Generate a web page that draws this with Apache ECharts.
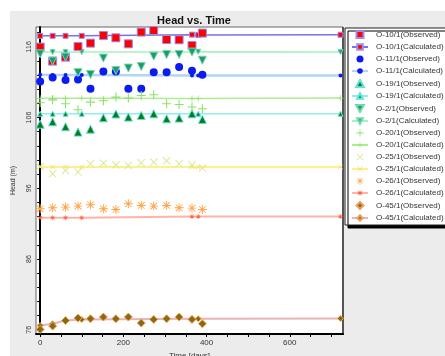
<!DOCTYPE html>
<html>
<head>
<meta charset="utf-8">
<script src="https://cdn.jsdelivr.net/npm/echarts@6/dist/echarts.min.js"></script>
<style>
  html, body { margin: 0; padding: 0; background: #fff; }
  #chart { width: 445px; height: 356px; }
</style>
</head>
<body>
<div id="chart"></div>
<script>
// Observation dates (days) and dates where calculated heads are reported
const obsDays  = [0, 30, 61, 91, 121, 152, 182, 212, 243, 273, 304, 334, 365, 390];
const calcDays = [0, 30, 61, 100, 365, 380, 722];

// Observed heads (m)
const o10Obs = [115.96, 113.98, 114.54, 116.04, 116.52, 117.6, 117.27, 116.42, 118.08, 118.3, 117.03, 116.99, 116.18, 117.94];
const o11Obs = [111.1, 111.66, 111.3, 111.38, 110.06, 112.51, 112.51, 110.06, 110.06, 112.42, 112.42, 113.13, 112.6, 112.04];
const o19Obs = [105.05, 105.4, 104.7, 103.94, 104.35, 105.96, 106.5, 106.06, 106.29, 106.53, 105.82, 105.92, 106.53, 105.73];
const o2Obs  = [115.01, 113.98, 114.54, 112.35, 112.08, 114.4, 112.65, 112.99, 113.2, 114.68, 114.91, 114.91, 115.25, 114.1];
const o20Obs = [108.08, 108.5, 107.94, 107.1, 108.18, 108.37, 108.89, 108.75, 109.12, 109.22, 107.94, 107.85, 107.48, 107.24];
const o25Obs = [99.08, 98.05, 98.52, 98.29, 99.46, 99.55, 99.32, 99.22, 99.6, 99.7, 99.89, 99.46, 99.32, 98.85];
const o26Obs = [93.1, 93.24, 93.34, 93.48, 93.67, 93.1, 93.0, 93.81, 93.57, 93.48, 93.57, 93.24, 93.2, 93.0];
const o45Obs = [76.05, 76.52, 77.3, 77.65, 77.55, 77.8, 77.55, 77.8, 76.95, 77.46, 77.55, 77.8, 77.46, 76.85];

// Calculated heads (m)
const o10Calc = [117.55, 117.55, 117.55, 117.55, 117.72, 117.68, 117.7];
const o11Calc = [112.05, 112.0, 112.0, 112.0, 111.95, 111.95, 111.95];
const o19Calc = [106.53, 106.53, 106.53, 106.53, 106.53, 106.53, 106.53];
const o2Calc  = [115.25, 115.25, 115.25, 115.25, 115.28, 115.3, 115.25];
const o20Calc = [108.72, 108.72, 108.72, 108.72, 108.7, 108.7, 108.75];
const o25Calc = [99.0, 99.0, 99.0, 99.02, 99.02, 99.02, 99.02];
const o26Calc = [91.83, 91.83, 91.83, 91.85, 92.02, 92.02, 92.02];
const o45Calc = [76.6, 76.85, 77.3, 77.45, 77.55, 77.55, 77.6];

// Axis ticks
const yTicks  = [76, 78, 80, 82, 84, 86, 88, 90, 92, 94, 96, 98, 100, 102, 104, 106, 108, 110, 112, 114, 116, 118];
const yLabels = [76, 86, 96, 106, 116];
const xTicks  = [0, 50, 100, 150, 200, 250, 300, 350, 400, 450, 500, 550, 600, 650, 700];
const xLabels = [0, 200, 400, 600];

// Marker shapes as paths so legend icons keep their aspect ratio
const SQUARE = 'path://M0,0H10V10H0Z';
const CIRCLE = 'path://M5,0A5,5,0,1,1,5,10A5,5,0,1,1,5,0Z';
const TRI_UP = 'path://M5,0L10,9H0Z';
const TRI_DN = 'path://M0,0H10L5,9Z';
const DIAMOND = 'path://M5,0L10,5L5,10L0,5Z';
const PLUS = 'path://M0,4.4H10V5.6H0Z M4.4,0H5.6V10H4.4Z';
const CROSS = 'path://M0,0.8L0.8,0L10,9.2L9.2,10Z M9.2,0L10,0.8L0.8,10L0,9.2Z';
const STAR = 'path://M0,4.5H10V5.5H0Z M4.5,0H5.5V10H4.5Z M1,1.7L1.7,1L9,8.3L8.3,9Z M8.3,1L9,1.7L1.7,9L1,8.3Z';

const pair = (xs, ys) => xs.map((x, i) => [x, ys[i]]);

function obs(name, ys, symbol, size, color, border) {
  return {
    name, type: 'scatter', data: pair(obsDays, ys), symbol, symbolSize: size, z: 5,
    itemStyle: { color, borderColor: border || color, borderWidth: border ? 1 : 0, opacity: 1 }
  };
}
function calc(name, ys, symbol, size, color, border, line, lw) {
  return {
    name, type: 'line', data: pair(calcDays, ys), symbol, symbolSize: size,
    showAllSymbol: true, z: 3,
    lineStyle: { color: line, width: lw },
    itemStyle: { color, borderColor: border || color, borderWidth: border ? 1 : 0 },
    emphasis: { disabled: true }
  };
}

const series = [
  obs('O-10/1(Observed)', o10Obs, SQUARE, 8, '#ff0000', '#9a8cf0'),
  calc('O-10/1(Calculated)', o10Calc, SQUARE, 5, '#ff0000', '#9a8cf0', '#7a72e6', 1.5),
  obs('O-11/1(Observed)', o11Obs, CIRCLE, 8, '#0a1cf0'),
  calc('O-11/1(Calculated)', o11Calc, CIRCLE, 4, '#0a1cf0', null, '#b2d4f6', 2.5),
  obs('O-19/1(Observed)', o19Obs, TRI_UP, 8, '#0a7a1a', '#5fe0d8'),
  calc('O-19/1(Calculated)', o19Calc, TRI_UP, 5, '#0a7a1a', '#5fe0d8', '#90eeee', 1.5),
  obs('O-2/1(Observed)', o2Obs, TRI_DN, 8, '#1e9a70', '#70d8b0'),
  calc('O-2/1(Calculated)', o2Calc, TRI_DN, 5, '#1e9a70', '#70d8b0', '#a4f2bc', 1.5),
  obs('O-20/1(Observed)', o20Obs, PLUS, 9, '#8ee070'),
  calc('O-20/1(Calculated)', o20Calc, PLUS, 6, '#8ee070', null, '#aaf08c', 1.5),
  obs('O-25/1(Observed)', o25Obs, CROSS, 8, '#d6ea8a'),
  calc('O-25/1(Calculated)', o25Calc, CROSS, 5, '#f0dc60', null, '#fff08e', 2),
  obs('O-26/1(Observed)', o26Obs, STAR, 9, '#ffa448'),
  calc('O-26/1(Calculated)', o26Calc, STAR, 5, '#ff5a3a', null, '#ffb4a6', 2),
  obs('O-45/1(Observed)', o45Obs, DIAMOND, 8, '#8a6a0c', '#f0a060'),
  calc('O-45/1(Calculated)', o45Calc, DIAMOND, 6, '#8a6a0c', '#f0a060', '#e8b4b4', 2)
];

const chart = echarts.init(document.getElementById('chart'), null, { renderer: 'canvas' });
chart.setOption({
  animation: false,
  backgroundColor: '#ececec',
  textStyle: { fontFamily: 'Liberation Sans, Arial, sans-serif' },
  title: {
    text: 'Head vs. Time', left: 189, top: 10, textAlign: 'center',
    textStyle: { fontSize: 11, fontWeight: 'bold', color: '#111' }
  },
  graphic: [
    { type: 'rect', shape: { x: 0, y: 0, width: 445, height: 11 }, style: { fill: '#fff' }, silent: true },
    { type: 'rect', shape: { x: 0, y: 0, width: 10, height: 356 }, style: { fill: '#fff' }, silent: true },
    { type: 'line', shape: { x1: 343, y1: 27, x2: 343, y2: 335 }, style: { stroke: '#555', lineWidth: 2 }, silent: true }
  ],
  grid: {
    left: 36, top: 27, right: 102, bottom: 22,
    outerBoundsMode: 'none', containLabel: false,
    show: true, backgroundColor: '#fff', borderColor: '#666', borderWidth: 1
  },
  legend: {
    orient: 'vertical', left: 345, top: 28,
    padding: [2, 4, 3, 6], itemWidth: 16, itemHeight: 7, itemGap: 4,
    symbolKeepAspect: true,
    backgroundColor: '#fff', borderColor: '#222', borderWidth: 1,
    shadowColor: '#000', shadowOffsetX: 3, shadowOffsetY: 3, shadowBlur: 0,
    textStyle: { fontSize: 8, lineHeight: 8, height: 8, color: '#333', padding: [0, 0, 0, 3] },
    data: series.map(s => s.name)
  },
  xAxis: {
    type: 'value', min: -10, max: 728,
    name: 'Time [days]', nameLocation: 'middle', nameGap: 18,
    nameTextStyle: { fontSize: 8, color: '#333' },
    axisLine: { show: true, lineStyle: { color: '#000', width: 2 } },
    axisTick: { show: true, length: 3, customValues: xTicks, lineStyle: { color: '#000' } },
    axisLabel: { customValues: xLabels, fontSize: 8, color: '#333', margin: 5 },
    splitLine: { show: false }
  },
  yAxis: {
    type: 'value', min: 75.4, max: 118.8,
    name: 'Head (m)', nameLocation: 'middle', nameGap: 19, nameRotate: 90,
    nameTextStyle: { fontSize: 7, color: '#333' },
    axisLine: { show: true, lineStyle: { color: '#000', width: 2 } },
    axisTick: { show: true, length: 3, customValues: yTicks, lineStyle: { color: '#000' } },
    axisLabel: { customValues: yLabels, fontSize: 7, color: '#333', rotate: 90, margin: 3 },
    splitLine: { show: false }
  },
  series
});
</script>
</body>
</html>
